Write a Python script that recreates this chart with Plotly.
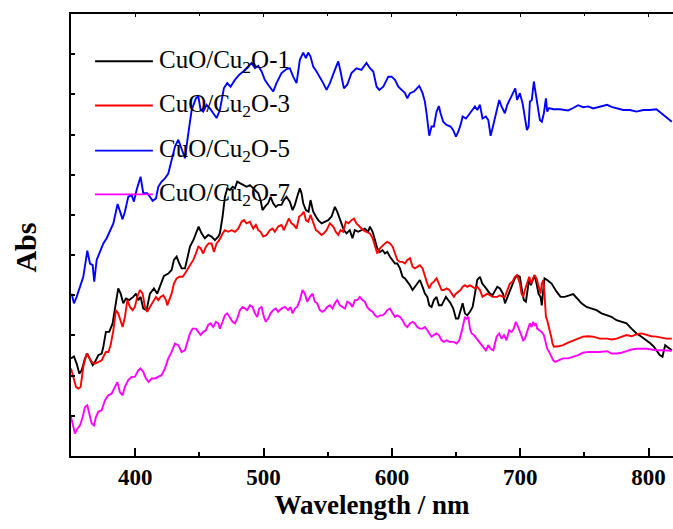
import plotly.graph_objects as go

# ---------------- data ----------------
names = ["CuO/Cu<sub>2</sub>O-1", "CuO/Cu<sub>2</sub>O-3", "CuO/Cu<sub>2</sub>O-5", "CuO/Cu<sub>2</sub>O-7"]
colors = ["#000000", "#ff0000", "#0000ff", "#ff00ff"]

wl_1 = [350.0, 352.3, 354.4, 356.5, 358.3, 360.9, 362.7, 364.8, 366.9, 368.7, 371.3, 373.9, 375.2, 377.2, 379.8,
        382.4, 385.0, 386.8, 388.7, 390.7, 392.8, 395.4, 398.5, 400.6, 402.4, 404.2, 406.3, 408.9, 411.5, 414.6,
        417.2, 419.8, 422.4, 425.8, 428.4, 430.2, 432.3, 434.4, 436.2, 438.8, 440.6, 442.7, 445.3, 447.9, 449.4,
        451.7, 454.3, 456.9, 459.5, 462.1, 464.7, 466.0, 468.1, 469.9, 471.7, 473.8, 475.9, 477.7, 479.5, 481.6,
        484.2, 486.8, 489.4, 492.0, 494.0, 495.9, 497.7, 499.2, 501.0, 503.6, 505.5, 507.5, 509.6, 511.4, 514.0,
        515.8, 517.9, 520.5, 522.6, 524.4, 526.2, 528.3, 529.6, 530.9, 533.0, 535.1, 536.6, 538.7, 540.8, 542.6,
        545.2, 547.8, 550.4, 553.0, 555.6, 557.4, 558.9, 560.8, 562.6, 564.7, 567.2, 569.3, 571.1, 573.7, 576.3,
        578.9, 581.5, 582.9, 585.0, 586.8, 588.6, 590.7, 592.8, 594.6, 596.4, 598.5, 600.6, 602.4, 604.2, 606.3,
        608.3, 610.2, 612.0, 614.1, 616.1, 617.9, 619.8, 621.8, 623.9, 625.7, 627.6, 629.1, 630.9, 632.7, 634.8,
        636.6, 638.7, 640.5, 642.1, 643.9, 645.7, 647.8, 649.9, 651.7, 653.5, 655.1, 656.9, 658.7, 660.8, 662.9,
        664.7, 666.5, 668.6, 670.4, 672.5, 674.3, 676.4, 678.4, 680.3, 682.1, 684.2, 686.5, 688.1, 690.2, 692.0,
        694.0, 695.8, 697.6, 699.7, 701.3, 702.8, 704.4, 705.4, 707.0, 708.3, 709.6, 711.1, 712.7, 714.2, 715.8,
        716.8, 717.9, 718.9, 721.0, 724.4, 728.3, 731.4, 734.7, 738.6, 741.2, 744.4, 747.7, 751.6, 755.5, 759.4,
        763.3, 767.2, 771.1, 775.0, 778.9, 782.8, 786.7, 790.6, 794.5, 798.4, 801.5, 804.1, 806.7, 808.7, 810.8,
        811.8, 812.9, 814.4, 816.5, 818.1]
abs_1 = [0.243, 0.248, 0.230, 0.205, 0.213, 0.243, 0.255, 0.238, 0.226, 0.234, 0.251, 0.255, 0.272, 0.309, 0.309,
         0.330, 0.388, 0.417, 0.404, 0.380, 0.392, 0.388, 0.396, 0.404, 0.388, 0.396, 0.367, 0.363, 0.404, 0.417,
         0.404, 0.425, 0.448, 0.454, 0.463, 0.488, 0.496, 0.479, 0.467, 0.467, 0.496, 0.521, 0.537, 0.562, 0.571,
         0.554, 0.542, 0.550, 0.546, 0.537, 0.546, 0.554, 0.596, 0.645, 0.666, 0.662, 0.670, 0.666, 0.683, 0.679,
         0.674, 0.670, 0.674, 0.666, 0.662, 0.654, 0.637, 0.612, 0.620, 0.629, 0.645, 0.629, 0.620, 0.625, 0.625,
         0.637, 0.645, 0.633, 0.612, 0.625, 0.645, 0.666, 0.654, 0.629, 0.612, 0.608, 0.637, 0.608, 0.596, 0.587,
         0.579, 0.583, 0.587, 0.596, 0.620, 0.608, 0.596, 0.579, 0.562, 0.554, 0.562, 0.542, 0.562, 0.558, 0.562,
         0.566, 0.558, 0.571, 0.558, 0.537, 0.517, 0.508, 0.512, 0.504, 0.508, 0.496, 0.488, 0.479, 0.479, 0.467,
         0.446, 0.442, 0.434, 0.425, 0.413, 0.421, 0.429, 0.438, 0.421, 0.404, 0.396, 0.375, 0.371, 0.388, 0.396,
         0.375, 0.375, 0.388, 0.396, 0.388, 0.380, 0.367, 0.342, 0.342, 0.363, 0.380, 0.355, 0.350, 0.359, 0.371,
         0.404, 0.438, 0.446, 0.429, 0.421, 0.413, 0.404, 0.400, 0.413, 0.421, 0.417, 0.404, 0.380, 0.396, 0.413,
         0.429, 0.442, 0.450, 0.446, 0.413, 0.388, 0.384, 0.404, 0.442, 0.425, 0.438, 0.450, 0.429, 0.404, 0.396,
         0.375, 0.413, 0.442, 0.438, 0.429, 0.409, 0.396, 0.396, 0.400, 0.403, 0.392, 0.380, 0.371, 0.367, 0.363,
         0.355, 0.350, 0.346, 0.338, 0.334, 0.330, 0.317, 0.305, 0.297, 0.288, 0.280, 0.272, 0.259, 0.251, 0.247,
         0.263, 0.276, 0.272, 0.267, 0.263]

wl_3 = [350.0, 351.8, 353.9, 355.7, 357.5, 359.6, 362.2, 364.3, 366.3, 368.7, 371.3, 373.9, 375.2, 377.2, 379.1,
        380.9, 383.0, 385.0, 386.8, 388.7, 390.2, 392.0, 393.9, 395.9, 398.0, 399.8, 401.6, 403.7, 405.8, 407.6,
        409.4, 411.5, 414.1, 416.2, 418.0, 419.8, 421.9, 424.0, 425.0, 426.6, 428.4, 430.2, 432.3, 434.4, 437.0,
        438.8, 440.6, 442.7, 445.3, 447.3, 449.2, 451.0, 453.0, 455.1, 457.2, 459.5, 461.4, 463.4, 465.5, 467.6,
        468.1, 469.9, 472.5, 475.1, 477.7, 480.3, 482.9, 484.7, 486.8, 489.4, 492.0, 494.0, 495.9, 497.7, 499.7,
        502.3, 504.9, 507.0, 508.8, 511.4, 514.0, 515.8, 517.9, 519.7, 521.8, 523.6, 525.7, 527.8, 529.6, 531.4,
        533.0, 534.8, 536.6, 538.7, 540.8, 542.6, 545.2, 547.0, 549.1, 551.7, 554.3, 556.3, 558.2, 560.0, 562.1,
        564.1, 566.2, 568.5, 570.4, 572.4, 575.0, 577.6, 580.2, 582.8, 585.0, 586.8, 588.6, 590.7, 592.8, 594.6,
        596.4, 598.5, 600.6, 602.4, 604.2, 606.3, 608.3, 610.2, 612.0, 614.1, 616.1, 617.9, 619.8, 621.8, 623.9,
        625.7, 627.6, 629.1, 630.9, 632.7, 634.8, 636.6, 638.7, 640.5, 642.6, 644.7, 646.5, 648.3, 649.9, 651.7,
        653.5, 655.1, 656.9, 658.7, 660.8, 662.9, 664.7, 666.5, 668.6, 670.6, 672.5, 674.3, 676.4, 678.4, 680.3,
        682.1, 684.2, 686.2, 688.0, 689.9, 691.9, 694.0, 695.8, 697.6, 699.7, 701.0, 702.3, 703.6, 705.4, 707.0,
        708.3, 709.6, 711.1, 712.7, 714.2, 715.8, 716.8, 717.9, 718.9, 720.0, 721.0, 722.5, 724.1, 725.1, 726.2,
        729.6, 733.4, 737.3, 741.2, 745.1, 749.0, 752.9, 756.8, 762.0, 767.7, 771.1, 775.0, 778.9, 782.8, 786.7,
        790.6, 794.5, 798.4, 802.2, 806.1, 810.0, 813.9, 818.1]
abs_3 = [0.218, 0.197, 0.172, 0.168, 0.172, 0.222, 0.255, 0.243, 0.234, 0.230, 0.234, 0.238, 0.247, 0.259, 0.259,
         0.276, 0.313, 0.363, 0.355, 0.334, 0.321, 0.346, 0.388, 0.371, 0.363, 0.371, 0.396, 0.413, 0.404, 0.371,
         0.359, 0.371, 0.384, 0.396, 0.388, 0.396, 0.400, 0.388, 0.375, 0.388, 0.404, 0.429, 0.442, 0.446, 0.446,
         0.454, 0.463, 0.475, 0.488, 0.504, 0.521, 0.517, 0.504, 0.521, 0.529, 0.529, 0.508, 0.529, 0.537, 0.550,
         0.554, 0.562, 0.558, 0.562, 0.558, 0.566, 0.583, 0.587, 0.579, 0.583, 0.566, 0.575, 0.562, 0.558, 0.546,
         0.550, 0.562, 0.566, 0.558, 0.571, 0.575, 0.562, 0.579, 0.591, 0.579, 0.575, 0.566, 0.596, 0.600, 0.608,
         0.587, 0.583, 0.600, 0.579, 0.562, 0.558, 0.550, 0.554, 0.562, 0.579, 0.571, 0.558, 0.550, 0.562, 0.558,
         0.583, 0.579, 0.587, 0.591, 0.579, 0.571, 0.562, 0.558, 0.554, 0.542, 0.521, 0.504, 0.517, 0.525, 0.529,
         0.533, 0.529, 0.521, 0.504, 0.488, 0.483, 0.483, 0.479, 0.488, 0.492, 0.471, 0.467, 0.471, 0.475, 0.467,
         0.446, 0.429, 0.417, 0.429, 0.434, 0.442, 0.429, 0.413, 0.413, 0.417, 0.413, 0.404, 0.396, 0.404, 0.409,
         0.413, 0.421, 0.425, 0.421, 0.425, 0.421, 0.417, 0.421, 0.413, 0.396, 0.400, 0.404, 0.400, 0.396, 0.396,
         0.396, 0.400, 0.396, 0.396, 0.413, 0.429, 0.434, 0.446, 0.450, 0.429, 0.404, 0.396, 0.413, 0.429, 0.446,
         0.429, 0.438, 0.450, 0.442, 0.421, 0.404, 0.429, 0.438, 0.404, 0.346, 0.338, 0.321, 0.297, 0.280, 0.272,
         0.273, 0.276, 0.282, 0.288, 0.292, 0.297, 0.298, 0.297, 0.292, 0.292, 0.290, 0.292, 0.297, 0.301, 0.298,
         0.303, 0.305, 0.301, 0.298, 0.297, 0.295, 0.292, 0.292]

wl_5 = [350.5, 352.3, 354.4, 357.0, 359.6, 362.7, 364.8, 366.9, 368.1, 370.0, 372.6, 375.2, 377.8, 380.4, 383.0,
        386.3, 388.1, 390.2, 392.0, 394.6, 397.2, 399.0, 401.1, 404.2, 406.3, 409.4, 411.5, 413.6, 416.2, 418.0,
        420.6, 423.2, 425.8, 428.4, 431.0, 433.6, 436.2, 438.8, 441.4, 444.0, 447.3, 449.2, 451.0, 453.0, 455.6,
        458.2, 460.8, 463.4, 466.0, 469.1, 471.7, 474.3, 477.7, 481.1, 484.2, 486.8, 490.7, 493.3, 495.9, 498.5,
        501.0, 503.6, 507.5, 510.1, 514.0, 517.9, 520.5, 523.1, 525.7, 528.3, 530.9, 533.0, 534.8, 536.6, 538.7,
        541.3, 543.9, 546.5, 549.1, 551.7, 555.6, 558.2, 560.0, 562.6, 565.2, 568.5, 572.4, 576.3, 580.2, 582.9,
        585.5, 588.1, 590.2, 593.3, 597.2, 599.8, 602.4, 605.0, 607.6, 610.2, 612.0, 614.1, 617.2, 621.3, 623.9,
        625.7, 627.0, 629.1, 630.9, 632.7, 634.8, 636.6, 637.9, 640.0, 642.6, 645.7, 647.8, 649.9, 651.7, 653.5,
        655.1, 657.7, 660.8, 664.7, 666.5, 668.6, 670.6, 673.2, 675.1, 676.9, 679.0, 681.0, 683.6, 685.4, 688.0,
        689.9, 691.9, 694.0, 696.1, 697.6, 699.7, 701.8, 703.6, 705.2, 706.5, 707.5, 709.0, 710.6, 711.6, 713.2,
        715.3, 716.8, 718.4, 720.0, 721.0, 722.5, 725.7, 730.9, 737.3, 741.2, 745.1, 749.0, 752.9, 756.8, 762.0,
        767.7, 771.1, 775.0, 780.2, 785.4, 790.6, 795.8, 801.0, 806.1, 810.0, 812.6, 815.2, 818.1]
abs_5 = [0.404, 0.380, 0.396, 0.421, 0.446, 0.511, 0.479, 0.475, 0.434, 0.488, 0.508, 0.529, 0.542, 0.562, 0.579,
         0.627, 0.608, 0.589, 0.608, 0.645, 0.650, 0.633, 0.662, 0.695, 0.654, 0.654, 0.645, 0.635, 0.641, 0.670,
         0.683, 0.691, 0.703, 0.737, 0.770, 0.787, 0.766, 0.741, 0.803, 0.861, 0.890, 0.895, 0.861, 0.857, 0.874,
         0.865, 0.853, 0.841, 0.861, 0.915, 0.928, 0.919, 0.936, 0.949, 0.957, 0.965, 0.978, 0.965, 0.971, 0.957,
         0.936, 0.924, 0.907, 0.928, 0.953, 0.963, 0.965, 0.944, 0.928, 0.986, 1.004, 0.990, 1.004, 0.994, 0.969,
         0.957, 0.944, 0.928, 0.911, 0.928, 0.961, 0.982, 0.957, 0.915, 0.924, 0.953, 0.965, 0.961, 0.978, 0.965,
         0.957, 0.919, 0.911, 0.919, 0.944, 0.944, 0.936, 0.919, 0.911, 0.903, 0.890, 0.903, 0.907, 0.921, 0.903,
         0.882, 0.853, 0.797, 0.820, 0.820, 0.857, 0.871, 0.853, 0.832, 0.824, 0.820, 0.811, 0.795, 0.807, 0.824,
         0.845, 0.840, 0.853, 0.870, 0.861, 0.874, 0.840, 0.845, 0.836, 0.797, 0.824, 0.853, 0.886, 0.870, 0.853,
         0.874, 0.886, 0.899, 0.915, 0.886, 0.903, 0.878, 0.845, 0.811, 0.820, 0.882, 0.886, 0.932, 0.911, 0.882,
         0.836, 0.832, 0.853, 0.890, 0.857, 0.866, 0.863, 0.863, 0.860, 0.866, 0.873, 0.868, 0.870, 0.865, 0.870,
         0.874, 0.869, 0.866, 0.861, 0.861, 0.857, 0.861, 0.861, 0.863, 0.853, 0.846, 0.841, 0.832]

wl_7 = [350.0, 351.8, 353.1, 354.9, 357.0, 359.1, 360.9, 362.7, 364.3, 366.1, 367.9, 369.4, 371.3, 373.9, 376.5,
        379.1, 381.6, 384.2, 386.1, 388.1, 390.2, 392.0, 394.6, 397.2, 399.8, 402.4, 404.2, 406.3, 408.4, 410.5,
        412.8, 415.4, 418.0, 420.6, 423.2, 425.8, 428.4, 431.0, 433.6, 436.2, 438.8, 440.6, 442.7, 444.7, 447.3,
        449.2, 451.0, 453.0, 455.1, 456.9, 458.8, 460.8, 462.9, 464.7, 466.0, 468.1, 469.9, 471.7, 473.8, 475.9,
        477.7, 479.5, 481.6, 483.7, 485.5, 487.3, 489.4, 491.4, 493.3, 495.1, 496.6, 498.5, 500.3, 501.8, 503.6,
        505.5, 507.5, 509.6, 511.4, 514.0, 516.6, 519.2, 521.0, 522.6, 524.4, 526.2, 528.3, 530.4, 532.2, 534.0,
        536.1, 538.2, 540.0, 541.8, 543.9, 546.0, 547.8, 549.6, 551.7, 553.7, 555.6, 557.4, 559.5, 561.5, 563.4,
        565.2, 567.2, 569.3, 571.1, 573.0, 575.0, 577.1, 578.9, 580.7, 582.9, 585.0, 586.8, 588.6, 590.7, 592.8,
        594.6, 596.4, 598.5, 600.6, 602.4, 604.2, 606.3, 608.3, 610.2, 612.0, 614.1, 616.1, 617.9, 619.8, 621.8,
        623.9, 625.7, 627.6, 629.1, 630.9, 632.7, 634.8, 636.6, 638.7, 640.5, 642.6, 644.7, 646.5, 648.3, 650.4,
        652.5, 654.3, 655.6, 656.9, 658.2, 659.5, 660.8, 662.1, 663.9, 666.0, 668.1, 669.9, 671.7, 673.2, 675.1,
        676.9, 679.0, 680.3, 681.6, 683.6, 685.4, 687.3, 689.3, 691.4, 693.2, 695.0, 696.6, 698.4, 699.7, 701.0,
        702.3, 703.6, 704.9, 706.5, 707.5, 708.8, 710.1, 711.1, 712.2, 713.2, 714.8, 716.6, 718.4, 720.0, 721.0,
        722.5, 724.1, 725.7, 727.2, 729.6, 733.4, 737.3, 741.2, 745.1, 749.0, 752.9, 756.8, 762.0, 767.7, 771.1,
        775.0, 778.9, 782.8, 786.7, 790.6, 794.5, 798.4, 802.2, 806.1, 810.0, 813.9, 818.1]
abs_7 = [0.097, 0.072, 0.056, 0.068, 0.076, 0.097, 0.122, 0.126, 0.105, 0.081, 0.076, 0.097, 0.110, 0.114, 0.139,
         0.151, 0.155, 0.172, 0.184, 0.159, 0.151, 0.172, 0.189, 0.197, 0.197, 0.213, 0.218, 0.209, 0.193, 0.184,
         0.193, 0.193, 0.197, 0.201, 0.218, 0.243, 0.259, 0.280, 0.276, 0.259, 0.263, 0.284, 0.305, 0.317, 0.317,
         0.309, 0.301, 0.309, 0.313, 0.326, 0.330, 0.321, 0.334, 0.330, 0.317, 0.334, 0.350, 0.355, 0.346, 0.334,
         0.330, 0.342, 0.363, 0.371, 0.367, 0.363, 0.375, 0.371, 0.355, 0.346, 0.367, 0.371, 0.346, 0.334, 0.342,
         0.355, 0.363, 0.367, 0.359, 0.367, 0.371, 0.363, 0.371, 0.355, 0.367, 0.371, 0.388, 0.413, 0.404, 0.384,
         0.396, 0.404, 0.384, 0.380, 0.363, 0.359, 0.363, 0.371, 0.375, 0.367, 0.380, 0.388, 0.375, 0.371, 0.367,
         0.384, 0.380, 0.371, 0.388, 0.388, 0.396, 0.388, 0.384, 0.371, 0.363, 0.359, 0.350, 0.346, 0.350, 0.350,
         0.355, 0.363, 0.367, 0.355, 0.346, 0.350, 0.346, 0.338, 0.326, 0.321, 0.330, 0.334, 0.330, 0.321, 0.317,
         0.317, 0.321, 0.313, 0.305, 0.297, 0.301, 0.305, 0.301, 0.288, 0.284, 0.288, 0.284, 0.284, 0.284, 0.280,
         0.288, 0.309, 0.330, 0.346, 0.342, 0.346, 0.317, 0.305, 0.301, 0.292, 0.284, 0.276, 0.267, 0.263, 0.276,
         0.267, 0.263, 0.280, 0.297, 0.305, 0.292, 0.301, 0.288, 0.313, 0.309, 0.317, 0.334, 0.321, 0.309, 0.301,
         0.288, 0.292, 0.305, 0.326, 0.330, 0.321, 0.334, 0.326, 0.330, 0.317, 0.313, 0.309, 0.301, 0.284, 0.267,
         0.259, 0.247, 0.238, 0.234, 0.238, 0.243, 0.243, 0.247, 0.251, 0.257, 0.259, 0.259, 0.259, 0.261, 0.255,
         0.255, 0.257, 0.261, 0.265, 0.267, 0.267, 0.267, 0.265, 0.263, 0.263, 0.263, 0.262]

x_tick_vals = [400, 500, 600, 700, 800]
x_tick_text = ["400", "500", "600", "700", "800"]
x_title = "Wavelength / nm"
y_title = "Abs"

series = [(wl_1, abs_1), (wl_3, abs_3), (wl_5, abs_5), (wl_7, abs_7)]

# ---------------- figure ----------------
SERIF = "Liberation Serif"
fig = go.Figure()
for (wl, ab), name, col in zip(series, names, colors):
    fig.add_trace(go.Scatter(x=wl, y=ab, mode="lines", name=name,
                             line=dict(color=col, width=1.9), showlegend=False))

# hidden helper trace so the top (mirror) axis with short ticks is drawn
fig.add_trace(go.Scatter(x=wl_1, y=abs_1, xaxis="x2", mode="lines",
                         line=dict(color="rgba(0,0,0,0)", width=0),
                         showlegend=False, hoverinfo="skip"))

fig.update_layout(
    width=673, height=529,
    margin=dict(l=71, r=0, t=14, b=73, autoexpand=False),
    paper_bgcolor="white", plot_bgcolor="white",
    showlegend=False,
    xaxis=dict(range=[350, 819], tickvals=x_tick_vals, ticktext=x_tick_text,
               ticks="inside", ticklen=8, tickwidth=1.5, tickcolor="black",
               minor=dict(dtick=50, tick0=350, ticks="inside", ticklen=4, tickwidth=1.5, tickcolor="black"),
               showline=True, linewidth=1.5, linecolor="black", mirror=True,
               showgrid=False, zeroline=False, automargin=False,
               tickfont=dict(family=SERIF, size=23, color="black", weight="bold"),
               title=dict(text=x_title, font=dict(family=SERIF, size=27, color="black", weight="bold"),
                          standoff=6)),
    xaxis2=dict(matches="x", overlaying="x", side="top", showticklabels=False,
                tickvals=x_tick_vals, ticks="inside", ticklen=3, tickwidth=1.2, tickcolor="black",
                minor=dict(dtick=50, tick0=350, ticks="inside", ticklen=2, tickwidth=1.2, tickcolor="black"),
                showline=False, showgrid=False, zeroline=False, automargin=False),
    yaxis=dict(range=[0, 1.1], dtick=0.1, tick0=0, ticks="inside", ticklen=4, tickwidth=1.5,
               tickcolor="black", showticklabels=False,
               showline=True, linewidth=1.5, linecolor="black", mirror=False,
               showgrid=False, zeroline=False, automargin=False),
)

# y-axis title
fig.add_annotation(text=y_title, xref="paper", yref="paper", x=-0.076, y=0.472,
                   xanchor="center", yanchor="middle",
                   textangle=-90, showarrow=False,
                   font=dict(family=SERIF, size=30, color="black", weight="bold"))

# manual legend (long line samples like the reference)
leg_y = [0.893, 0.793, 0.691, 0.592]
for yy, name, col in zip(leg_y, names, colors):
    fig.add_shape(type="line", xref="paper", yref="paper", x0=0.040, x1=0.136, y0=yy, y1=yy,
                  line=dict(color=col, width=1.9))
    fig.add_annotation(text=name, xref="paper", yref="paper", x=0.143, y=yy,
                       xanchor="left", yanchor="middle", showarrow=False,
                       font=dict(family=SERIF, size=25, color="black"))

fig.write_html("out.html", config={"displayModeBar": False},
               post_script="document.body.style.margin='0';document.body.style.overflow='hidden';")
